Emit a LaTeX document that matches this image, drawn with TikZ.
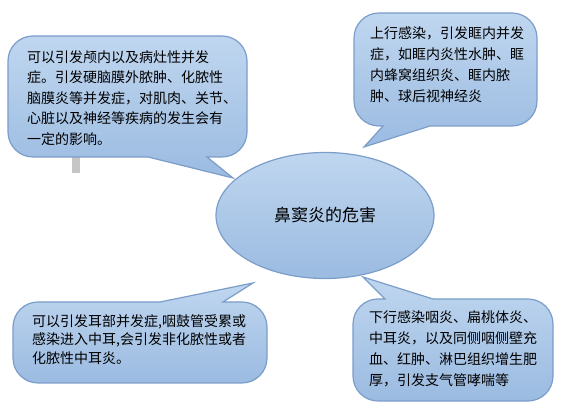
\documentclass[tikz,border=0pt]{standalone}
\usepackage{fontspec}
\newfontfamily\cjk{Noto Sans CJK SC}
\usetikzlibrary{shapes.geometric}
\definecolor{bubtop}{HTML}{BFD6EF}
\definecolor{bubbot}{HTML}{9BBBE1}
\definecolor{bubline}{HTML}{7B9DC9}
\begin{document}
\begin{tikzpicture}[x=1pt,y=1pt,
    bubble/.style={draw=bubline,line width=1.2pt,top color=bubtop,bottom color=bubbot},
    txt/.style={anchor=north west,inner sep=0pt,align=left,font=\cjk}]
\useasboundingbox (0,0) rectangle (564,419);
\fill[gray!45] (72,246) rectangle (80,262);

% 四个气泡框
\draw[bubble] (8,287) -- (8,358) arc[start angle=180,end angle=90,radius=25] -- (222,383)
    arc[start angle=90,end angle=0,radius=25] -- (247,287) arc[start angle=0,end angle=-90,radius=25]
    -- (207,262) -- (233,241) -- (148,262) -- (33,262) arc[start angle=-90,end angle=-180,radius=25] -- cycle;
\draw[bubble] (354,318) -- (354,381) arc[start angle=180,end angle=90,radius=25] -- (512,406)
    arc[start angle=90,end angle=0,radius=25] -- (537,318) arc[start angle=0,end angle=-90,radius=25]
    -- (430,293) -- (364,272) -- (383,293) -- (379,293) arc[start angle=-90,end angle=-180,radius=25] -- cycle;
\draw[bubble] (13,61) -- (13,92) arc[start angle=180,end angle=90,radius=25] -- (160,117) -- (253,136)
    -- (223,117) -- (242,117) arc[start angle=90,end angle=0,radius=25] -- (267,61)
    arc[start angle=0,end angle=-90,radius=25] -- (38,36) arc[start angle=-90,end angle=-180,radius=25] -- cycle;
\draw[bubble] (353,43) -- (353,95) arc[start angle=180,end angle=90,radius=25] -- (385,120) -- (363,142)
    -- (433,120) -- (528,120) arc[start angle=90,end angle=0,radius=25] -- (553,43)
    arc[start angle=0,end angle=-90,radius=25] -- (378,18) arc[start angle=-90,end angle=-180,radius=25] -- cycle;

\node[txt,font=\cjk\fontsize{14}{20.5}\selectfont] (skull) at (27,369)
    {可以引发颅内以及病灶性并发\\症。引发硬脑膜外脓肿、化脓性\\脑膜炎等并发症，对肌肉、关节、\\心脏以及神经等疾病的发生会有\\一定的影响。};
\node[txt,font=\cjk\fontsize{14}{21.3}\selectfont] (orbit) at (370,393)
    {上行感染，引发眶内并发\\症，如眶内炎性水肿、眶\\内蜂窝组织炎、眶内脓\\肿、球后视神经炎};
\node[txt,font=\cjk\fontsize{14}{18.5}\selectfont] (ear) at (32,105)
    {可以引发耳部并发症,咽鼓管受累或\\感染进入中耳,会引发非化脓性或者\\化脓性中耳炎。};
\node[txt,font=\cjk\fontsize{14}{20.7}\selectfont] (throat) at (369,108)
    {下行感染咽炎、扁桃体炎、\\中耳炎，以及同侧咽侧壁充\\血、红肿、淋巴组织增生肥\\厚，引发支气管哮喘等};

\node[ellipse,bubble,minimum width=218,minimum height=126,inner sep=0pt,
    font=\cjk\fontsize{17}{20}\selectfont] (harm) at (325,203.5) {鼻窦炎的危害};
\end{tikzpicture}
\end{document}
